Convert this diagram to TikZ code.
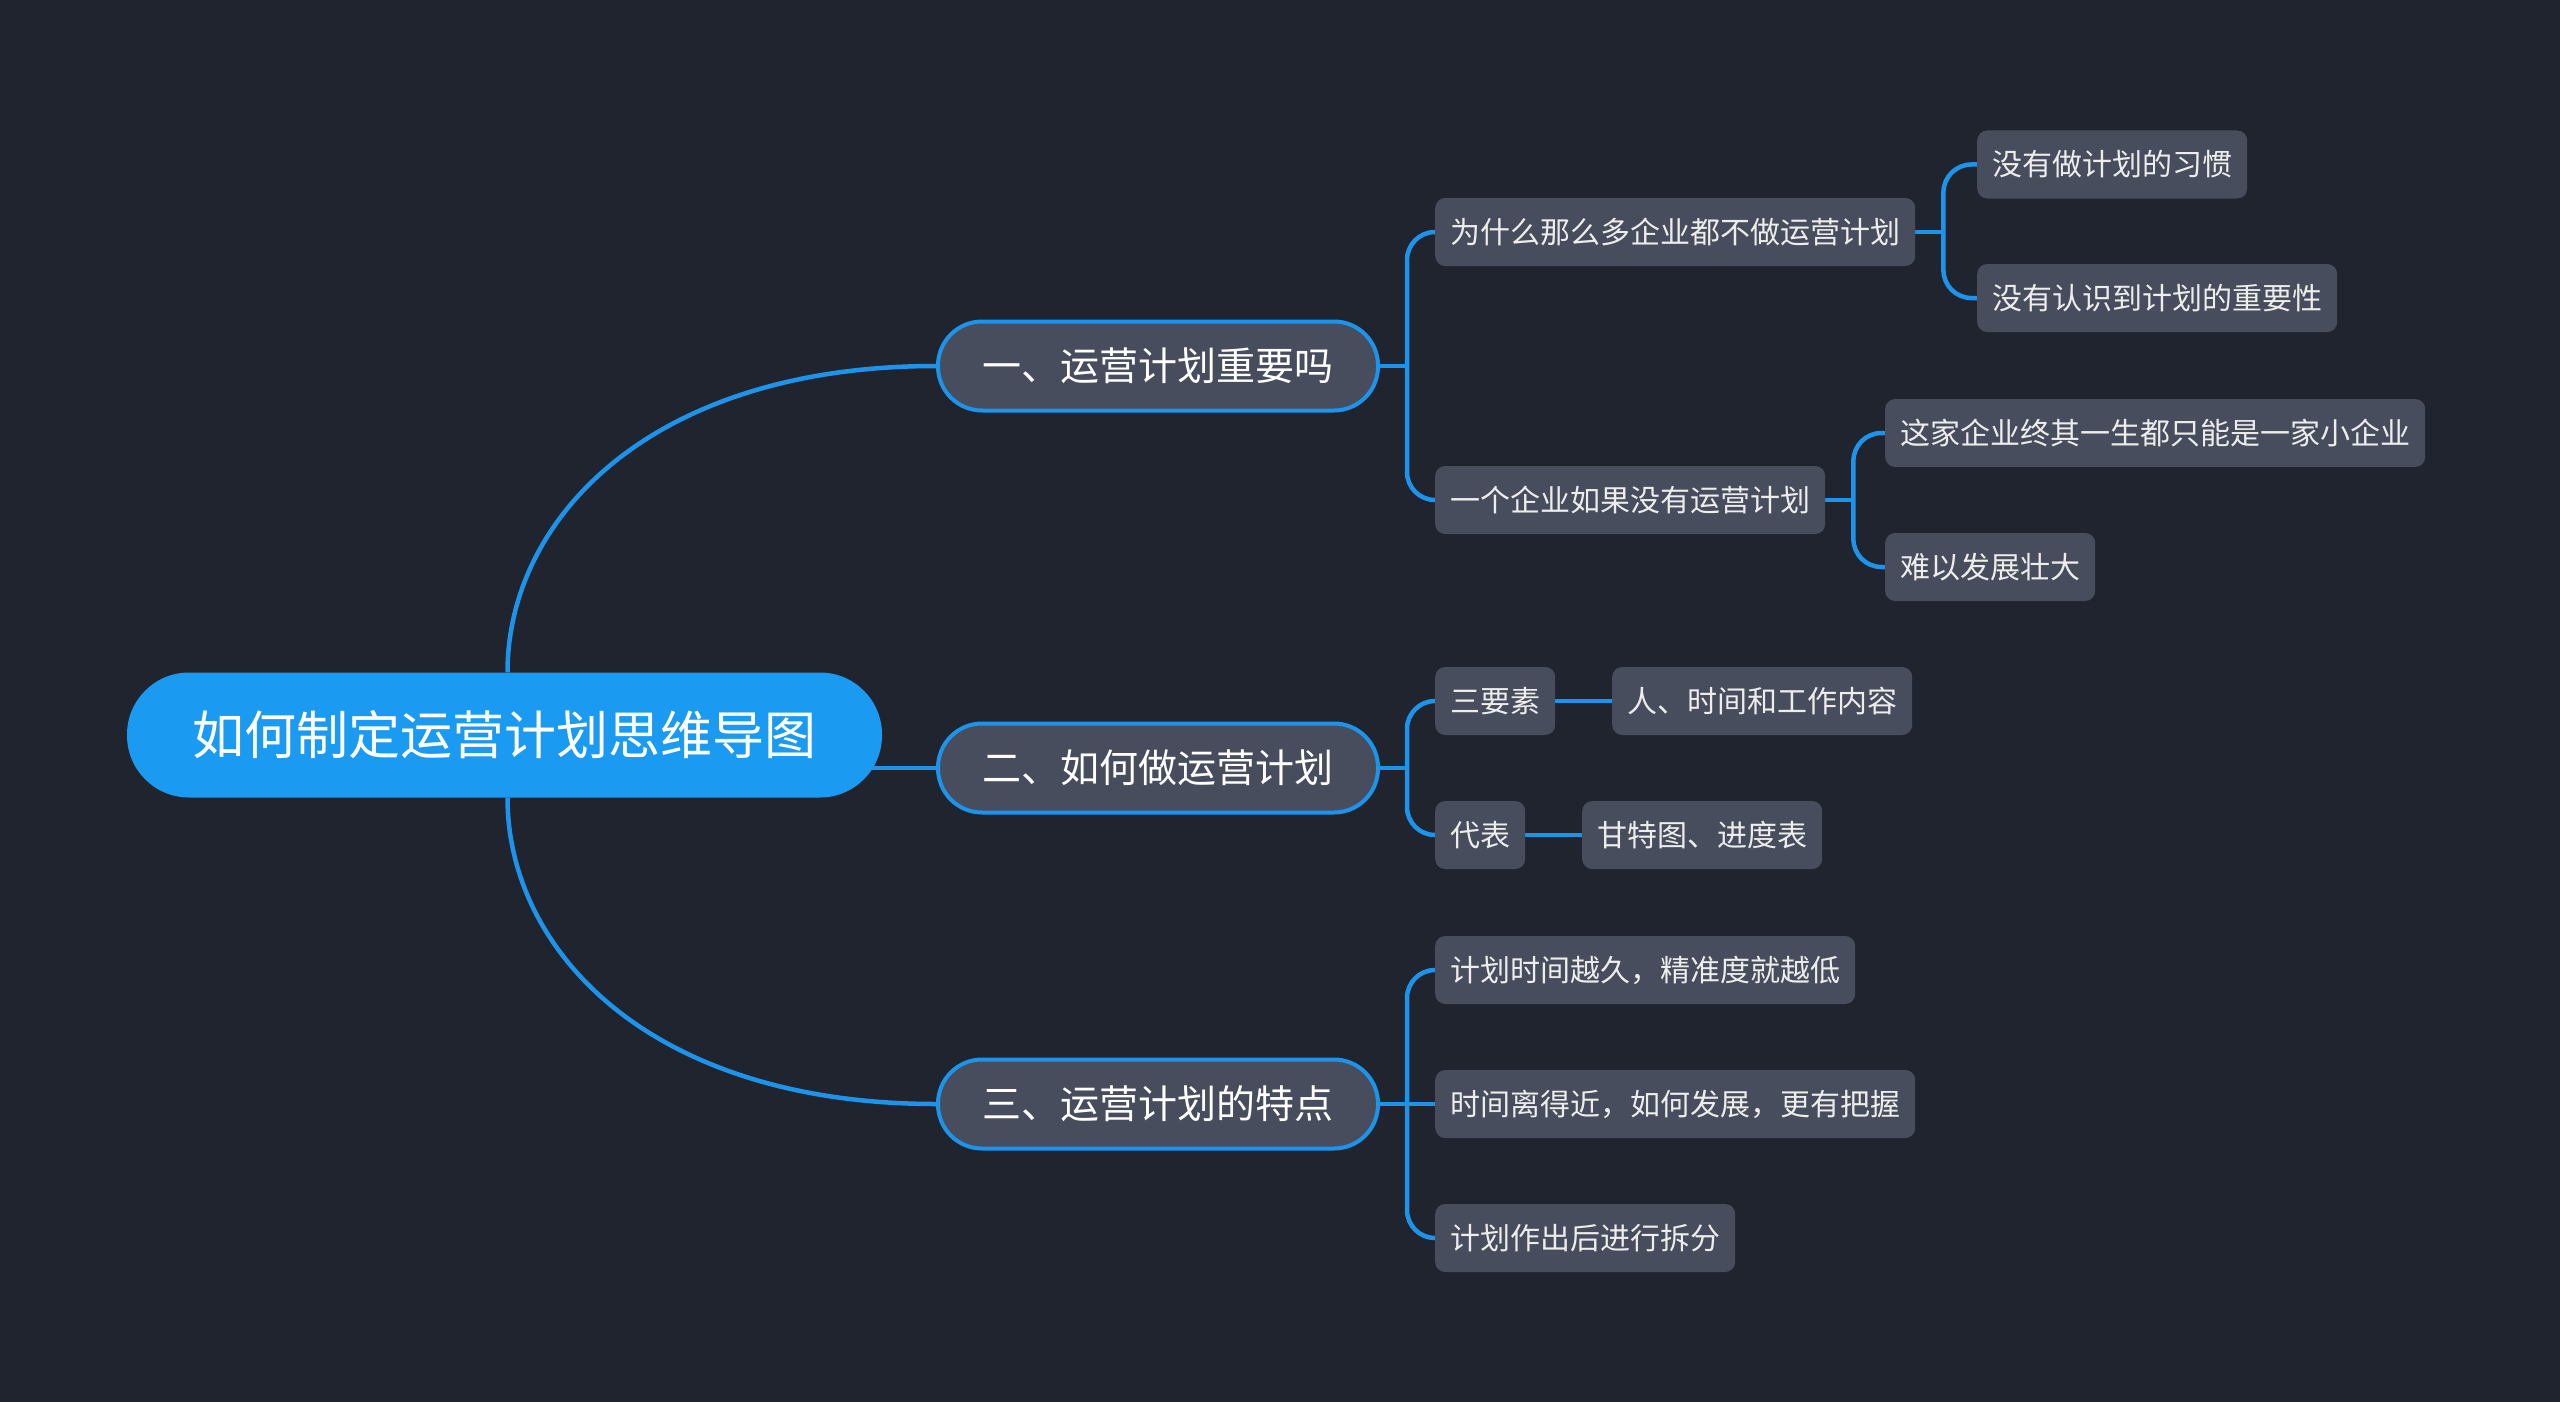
\documentclass[tikz,border=0pt]{standalone}
\usepackage{fontspec}
\setmainfont{Noto Sans CJK SC}
\usetikzlibrary{calc}
\definecolor{bgc}{HTML}{20242F}
\definecolor{nodefill}{HTML}{474D5C}
\definecolor{linec}{HTML}{1E93EA}
\definecolor{rootc}{HTML}{1A9AF0}
\pgfdeclarelayer{back}
\pgfsetlayers{back,main}
\begin{document}
\begin{tikzpicture}[x=1pt,y=-1pt,
 rootnode/.style={fill=rootc, text=white, rounded corners=62pt, minimum width=755pt, minimum height=125pt, inner sep=0pt, font=\fontsize{52pt}{60pt}\selectfont, text height=41.6pt, text depth=2pt},
 topic/.style={fill=nodefill, draw=linec, line width=4pt, text=white, rounded corners=44pt, minimum width=440pt, minimum height=89pt, inner sep=0pt, font=\fontsize{39pt}{46pt}\selectfont, text height=31.2pt, text depth=1.6pt},
 sub/.style={fill=nodefill, text=white!93!black, rounded corners=10pt, minimum height=68pt, inner xsep=15pt, inner ysep=0pt, font=\fontsize{30pt}{36pt}\selectfont, text height=24pt, text depth=1.2pt, anchor=west},
 conn/.style={draw=linec, line width=4.5pt},
 branchline/.style={conn, rounded corners=28pt},
]
\begin{pgfonlayer}{back}
\fill[bgc] (0,0) rectangle (2560,1402);
\end{pgfonlayer}
\useasboundingbox (0,0) rectangle (2560,1402);

\node[rootnode] (root) at (504.5,735) {如何制定运营计划思维导图};

\node[topic] (t1) at (1158,366) {一、运营计划重要吗};
\node[topic] (t2) at (1158,768) {二、如何做运营计划};
\node[topic] (t3) at (1158,1104) {三、运营计划的特点};

\node[sub] (s11) at (1435,232) {为什么那么多企业都不做运营计划};
\node[sub] (s12) at (1435,500) {一个企业如果没有运营计划};
\node[sub] (s111) at (1977,164.5) {没有做计划的习惯};
\node[sub] (s112) at (1977,298) {没有认识到计划的重要性};
\node[sub] (s121) at (1885,433) {这家企业终其一生都只能是一家小企业};
\node[sub] (s122) at (1885,567) {难以发展壮大};

\node[sub] (s21) at (1435,701) {三要素};
\node[sub] (s211) at (1612,701) {人、时间和工作内容};
\node[sub] (s22) at (1435,835) {代表};
\node[sub] (s221) at (1582,835) {甘特图、进度表};

\node[sub] (s31) at (1435,970) {计划时间越久，精准度就越低};
\node[sub] (s32) at (1435,1104) {时间离得近，如何发展，更有把握};
\node[sub] (s33) at (1435,1238) {计划作出后进行拆分};

\begin{pgfonlayer}{back}
\draw[conn] ([xshift=3pt]root.north) .. controls +(0,-153) and +(-286,0) .. (t1.west);
\draw[conn] ([xshift=3pt]root.south) .. controls +(0,153) and +(-286,0) .. (t3.west);
\draw[conn] (root.center |- t2.west) -- (t2.west);

\coordinate (b1) at ([xshift=27pt]t1.east);
\draw[conn] (t1.east) -- (b1);
\draw[branchline] (b1) |- (s11.west);
\draw[branchline] (b1) |- (s12.west);

\coordinate (b11) at ([xshift=28pt]s11.east);
\draw[conn] (s11.east) -- (b11);
\draw[branchline] (b11) |- (s111.west);
\draw[branchline] (b11) |- (s112.west);

\coordinate (b12) at ([xshift=28pt]s12.east);
\draw[conn] (s12.east) -- (b12);
\draw[branchline] (b12) |- (s121.west);
\draw[branchline] (b12) |- (s122.west);

\coordinate (b2) at ([xshift=27pt]t2.east);
\draw[conn] (t2.east) -- (b2);
\draw[branchline] (b2) |- (s21.west);
\draw[branchline] (b2) |- (s22.west);
\draw[conn] (s21.east) -- (s211.west);
\draw[conn] (s22.east) -- (s221.west);

\coordinate (b3) at ([xshift=27pt]t3.east);
\draw[conn] (t3.east) -- (b3);
\draw[branchline] (b3) |- (s31.west);
\draw[conn] (b3) -- (s32.west);
\draw[branchline] (b3) |- (s33.west);
\end{pgfonlayer}
\end{tikzpicture}
\end{document}
